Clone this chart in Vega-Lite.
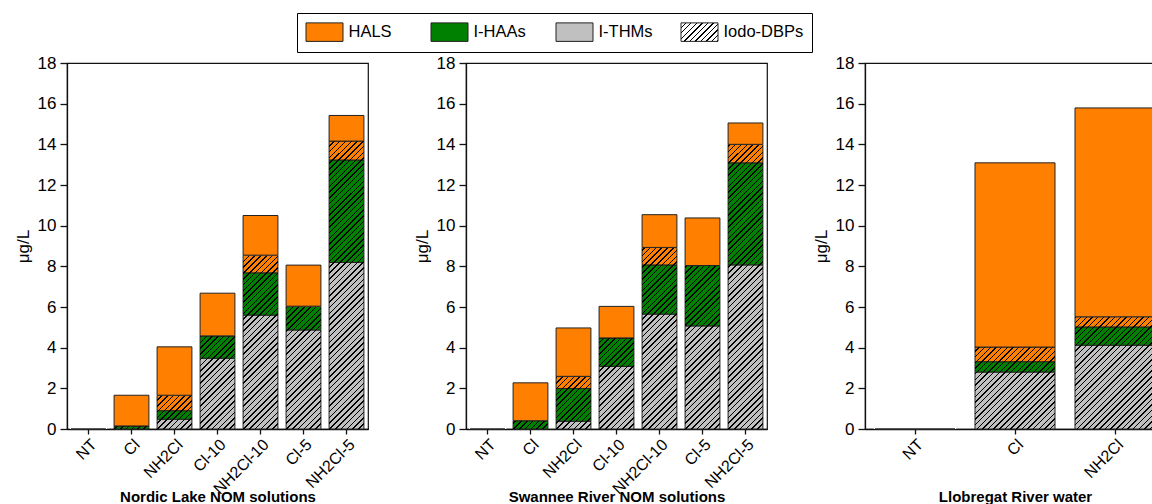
{
"$schema": "https://vega.github.io/schema/vega-lite/v6.json",
"autosize": {"type": "none"},
"padding": {"left": 67, "top": 63, "right": 1085, "bottom": 441},
"background": "white",
"config": {
 "font": "Liberation Sans",
 "view": {"stroke": "#111", "strokeWidth": 1.2},
 "bar": {"fill": {"gradient": "linear", "x1": 0, "y1": 0, "x2": 0.1255, "y2": 1.0998, "stops": [
{"offset":0,"color":"transparent"},{"offset":0.0125,"color":"transparent"},{"offset":0.0125,"color":"black"},{"offset":0.017,"color":"black"},
{"offset":0.017,"color":"transparent"},{"offset":0.0295,"color":"transparent"},{"offset":0.0295,"color":"black"},{"offset":0.034,"color":"black"},
{"offset":0.034,"color":"transparent"},{"offset":0.0465,"color":"transparent"},{"offset":0.0465,"color":"black"},{"offset":0.051,"color":"black"},
{"offset":0.051,"color":"transparent"},{"offset":0.0635,"color":"transparent"},{"offset":0.0635,"color":"black"},{"offset":0.068,"color":"black"},
{"offset":0.068,"color":"transparent"},{"offset":0.0805,"color":"transparent"},{"offset":0.0805,"color":"black"},{"offset":0.085,"color":"black"},
{"offset":0.085,"color":"transparent"},{"offset":0.0975,"color":"transparent"},{"offset":0.0975,"color":"black"},{"offset":0.102,"color":"black"},
{"offset":0.102,"color":"transparent"},{"offset":0.1145,"color":"transparent"},{"offset":0.1145,"color":"black"},{"offset":0.119,"color":"black"},
{"offset":0.119,"color":"transparent"},{"offset":0.1315,"color":"transparent"},{"offset":0.1315,"color":"black"},{"offset":0.136,"color":"black"},
{"offset":0.136,"color":"transparent"},{"offset":0.1485,"color":"transparent"},{"offset":0.1485,"color":"black"},{"offset":0.153,"color":"black"},
{"offset":0.153,"color":"transparent"},{"offset":0.1655,"color":"transparent"},{"offset":0.1655,"color":"black"},{"offset":0.17,"color":"black"},
{"offset":0.17,"color":"transparent"},{"offset":0.1825,"color":"transparent"},{"offset":0.1825,"color":"black"},{"offset":0.187,"color":"black"},
{"offset":0.187,"color":"transparent"},{"offset":0.1995,"color":"transparent"},{"offset":0.1995,"color":"black"},{"offset":0.204,"color":"black"},
{"offset":0.204,"color":"transparent"},{"offset":0.2165,"color":"transparent"},{"offset":0.2165,"color":"black"},{"offset":0.221,"color":"black"},
{"offset":0.221,"color":"transparent"},{"offset":0.2335,"color":"transparent"},{"offset":0.2335,"color":"black"},{"offset":0.238,"color":"black"},
{"offset":0.238,"color":"transparent"},{"offset":0.2505,"color":"transparent"},{"offset":0.2505,"color":"black"},{"offset":0.255,"color":"black"},
{"offset":0.255,"color":"transparent"},{"offset":0.2675,"color":"transparent"},{"offset":0.2675,"color":"black"},{"offset":0.272,"color":"black"},
{"offset":0.272,"color":"transparent"},{"offset":0.2845,"color":"transparent"},{"offset":0.2845,"color":"black"},{"offset":0.289,"color":"black"},
{"offset":0.289,"color":"transparent"},{"offset":0.3015,"color":"transparent"},{"offset":0.3015,"color":"black"},{"offset":0.306,"color":"black"},
{"offset":0.306,"color":"transparent"},{"offset":0.3185,"color":"transparent"},{"offset":0.3185,"color":"black"},{"offset":0.323,"color":"black"},
{"offset":0.323,"color":"transparent"},{"offset":0.3355,"color":"transparent"},{"offset":0.3355,"color":"black"},{"offset":0.34,"color":"black"},
{"offset":0.34,"color":"transparent"},{"offset":0.3525,"color":"transparent"},{"offset":0.3525,"color":"black"},{"offset":0.357,"color":"black"},
{"offset":0.357,"color":"transparent"},{"offset":0.3695,"color":"transparent"},{"offset":0.3695,"color":"black"},{"offset":0.374,"color":"black"},
{"offset":0.374,"color":"transparent"},{"offset":0.3865,"color":"transparent"},{"offset":0.3865,"color":"black"},{"offset":0.391,"color":"black"},
{"offset":0.391,"color":"transparent"},{"offset":0.4035,"color":"transparent"},{"offset":0.4035,"color":"black"},{"offset":0.408,"color":"black"},
{"offset":0.408,"color":"transparent"},{"offset":0.4205,"color":"transparent"},{"offset":0.4205,"color":"black"},{"offset":0.425,"color":"black"},
{"offset":0.425,"color":"transparent"},{"offset":0.4375,"color":"transparent"},{"offset":0.4375,"color":"black"},{"offset":0.442,"color":"black"},
{"offset":0.442,"color":"transparent"},{"offset":0.4545,"color":"transparent"},{"offset":0.4545,"color":"black"},{"offset":0.459,"color":"black"},
{"offset":0.459,"color":"transparent"},{"offset":0.4715,"color":"transparent"},{"offset":0.4715,"color":"black"},{"offset":0.476,"color":"black"},
{"offset":0.476,"color":"transparent"},{"offset":0.4885,"color":"transparent"},{"offset":0.4885,"color":"black"},{"offset":0.493,"color":"black"},
{"offset":0.493,"color":"transparent"},{"offset":0.5055,"color":"transparent"},{"offset":0.5055,"color":"black"},{"offset":0.51,"color":"black"},
{"offset":0.51,"color":"transparent"},{"offset":0.5225,"color":"transparent"},{"offset":0.5225,"color":"black"},{"offset":0.527,"color":"black"},
{"offset":0.527,"color":"transparent"},{"offset":0.5395,"color":"transparent"},{"offset":0.5395,"color":"black"},{"offset":0.544,"color":"black"},
{"offset":0.544,"color":"transparent"},{"offset":0.5565,"color":"transparent"},{"offset":0.5565,"color":"black"},{"offset":0.561,"color":"black"},
{"offset":0.561,"color":"transparent"},{"offset":0.5735,"color":"transparent"},{"offset":0.5735,"color":"black"},{"offset":0.578,"color":"black"},
{"offset":0.578,"color":"transparent"},{"offset":0.5905,"color":"transparent"},{"offset":0.5905,"color":"black"},{"offset":0.595,"color":"black"},
{"offset":0.595,"color":"transparent"},{"offset":0.6075,"color":"transparent"},{"offset":0.6075,"color":"black"},{"offset":0.612,"color":"black"},
{"offset":0.612,"color":"transparent"},{"offset":0.6245,"color":"transparent"},{"offset":0.6245,"color":"black"},{"offset":0.629,"color":"black"},
{"offset":0.629,"color":"transparent"},{"offset":0.6415,"color":"transparent"},{"offset":0.6415,"color":"black"},{"offset":0.646,"color":"black"},
{"offset":0.646,"color":"transparent"},{"offset":0.6585,"color":"transparent"},{"offset":0.6585,"color":"black"},{"offset":0.663,"color":"black"},
{"offset":0.663,"color":"transparent"},{"offset":0.6755,"color":"transparent"},{"offset":0.6755,"color":"black"},{"offset":0.68,"color":"black"},
{"offset":0.68,"color":"transparent"},{"offset":0.6925,"color":"transparent"},{"offset":0.6925,"color":"black"},{"offset":0.697,"color":"black"},
{"offset":0.697,"color":"transparent"},{"offset":0.7095,"color":"transparent"},{"offset":0.7095,"color":"black"},{"offset":0.714,"color":"black"},
{"offset":0.714,"color":"transparent"},{"offset":0.7265,"color":"transparent"},{"offset":0.7265,"color":"black"},{"offset":0.731,"color":"black"},
{"offset":0.731,"color":"transparent"},{"offset":0.7435,"color":"transparent"},{"offset":0.7435,"color":"black"},{"offset":0.748,"color":"black"},
{"offset":0.748,"color":"transparent"},{"offset":0.7605,"color":"transparent"},{"offset":0.7605,"color":"black"},{"offset":0.765,"color":"black"},
{"offset":0.765,"color":"transparent"},{"offset":0.7775,"color":"transparent"},{"offset":0.7775,"color":"black"},{"offset":0.782,"color":"black"},
{"offset":0.782,"color":"transparent"},{"offset":0.7945,"color":"transparent"},{"offset":0.7945,"color":"black"},{"offset":0.799,"color":"black"},
{"offset":0.799,"color":"transparent"},{"offset":0.8115,"color":"transparent"},{"offset":0.8115,"color":"black"},{"offset":0.816,"color":"black"},
{"offset":0.816,"color":"transparent"},{"offset":0.8285,"color":"transparent"},{"offset":0.8285,"color":"black"},{"offset":0.833,"color":"black"},
{"offset":0.833,"color":"transparent"},{"offset":0.8455,"color":"transparent"},{"offset":0.8455,"color":"black"},{"offset":0.85,"color":"black"},
{"offset":0.85,"color":"transparent"},{"offset":0.8625,"color":"transparent"},{"offset":0.8625,"color":"black"},{"offset":0.867,"color":"black"},
{"offset":0.867,"color":"transparent"},{"offset":0.8795,"color":"transparent"},{"offset":0.8795,"color":"black"},{"offset":0.884,"color":"black"},
{"offset":0.884,"color":"transparent"},{"offset":0.8965,"color":"transparent"},{"offset":0.8965,"color":"black"},{"offset":0.901,"color":"black"},
{"offset":0.901,"color":"transparent"},{"offset":0.9135,"color":"transparent"},{"offset":0.9135,"color":"black"},{"offset":0.918,"color":"black"},
{"offset":0.918,"color":"transparent"},{"offset":0.9305,"color":"transparent"},{"offset":0.9305,"color":"black"},{"offset":0.935,"color":"black"},
{"offset":0.935,"color":"transparent"},{"offset":0.9475,"color":"transparent"},{"offset":0.9475,"color":"black"},{"offset":0.952,"color":"black"},
{"offset":0.952,"color":"transparent"},{"offset":0.9645,"color":"transparent"},{"offset":0.9645,"color":"black"},{"offset":0.969,"color":"black"},
{"offset":0.969,"color":"transparent"},{"offset":0.9815,"color":"transparent"},{"offset":0.9815,"color":"black"},{"offset":0.986,"color":"black"},
{"offset":0.986,"color":"transparent"},{"offset":0.9985,"color":"transparent"},{"offset":0.9985,"color":"black"},{"offset":1,"color":"black"}
 ]}},
 "axis": {"domainColor": "#111", "domainWidth": 1.3, "tickColor": "#111", "tickWidth": 1.3, "labelColor": "black", "titleColor": "black", "grid": false, "zindex": 1},
 "axisX": {"labelAngle": -45, "labelFontSize": 16, "tickSize": 5, "titleFontSize": 15, "titleFontWeight": "bold", "titleY": 72, "titleBaseline": "alphabetic", "labelPadding": 2},
 "axisY": {"labelFontSize": 17, "titleFontSize": 17, "titleFontWeight": "normal", "labelPadding": 4, "titlePadding": 5}
},
"datasets": {
 "nordic": [
  {"cat": "NT", "thm_top": 0, "haa_top": 0, "iodo_top": 0, "total": 0},
  {"cat": "Cl", "thm_top": 0, "haa_top": 0.15, "iodo_top": 0.15, "total": 1.66},
  {"cat": "NH2Cl", "thm_top": 0.48, "haa_top": 0.9, "iodo_top": 1.66, "total": 4.04},
  {"cat": "Cl-10", "thm_top": 3.48, "haa_top": 4.58, "iodo_top": 4.58, "total": 6.68},
  {"cat": "NH2Cl-10", "thm_top": 5.6, "haa_top": 7.68, "iodo_top": 8.55, "total": 10.5},
  {"cat": "Cl-5", "thm_top": 4.87, "haa_top": 6.04, "iodo_top": 6.04, "total": 8.06},
  {"cat": "NH2Cl-5", "thm_top": 8.19, "haa_top": 13.23, "iodo_top": 14.16, "total": 15.42}
 ],
 "swannee": [
  {"cat": "NT", "thm_top": 0, "haa_top": 0, "iodo_top": 0, "total": 0},
  {"cat": "Cl", "thm_top": 0, "haa_top": 0.41, "iodo_top": 0.41, "total": 2.27},
  {"cat": "NH2Cl", "thm_top": 0.38, "haa_top": 1.99, "iodo_top": 2.59, "total": 4.97},
  {"cat": "Cl-10", "thm_top": 3.08, "haa_top": 4.48, "iodo_top": 4.48, "total": 6.03},
  {"cat": "NH2Cl-10", "thm_top": 5.65, "haa_top": 8.07, "iodo_top": 8.93, "total": 10.54},
  {"cat": "Cl-5", "thm_top": 5.07, "haa_top": 8.04, "iodo_top": 8.04, "total": 10.38},
  {"cat": "NH2Cl-5", "thm_top": 8.07, "haa_top": 13.09, "iodo_top": 14.0, "total": 15.05}
 ],
 "llobregat": [
  {"cat": "NT", "thm_top": 0, "haa_top": 0, "iodo_top": 0, "total": 0},
  {"cat": "Cl", "thm_top": 2.8, "haa_top": 3.31, "iodo_top": 4.03, "total": 13.09},
  {"cat": "NH2Cl", "thm_top": 4.12, "haa_top": 5.02, "iodo_top": 5.52, "total": 15.79}
 ]
},
"bounds": "flush",
"spacing": 98,
"hconcat": [
 {
  "width": 301, "height": 366,
  "data": {"name": "nordic"},
  "encoding": {"x": {"field": "cat", "type": "nominal", "sort": null, "scale": {"paddingInner": 0.19, "paddingOuter": 0.095}, "axis": {"title": "Nordic Lake NOM solutions"}}},
  "layer": [
   {"mark": {"type": "bar", "stroke": "#222", "strokeWidth": 1},
    "encoding": {
     "y": {"field": "thm_top", "type": "quantitative", "scale": {"domain": [0, 18], "nice": false},
       "axis": {"title": "μg/L", "values": [0,1,2,3,4,5,6,7,8,9,10,11,12,13,14,15,16,17,18], "labelExpr": "datum.value % 2 === 0 ? datum.label : ''", "tickSize": {"condition": {"test": "datum.value % 2 === 0", "value": 7}, "value": 3.5}}},
     "y2": {"datum": 0},
     "fill": {"datum": "I-THMs", "type": "nominal",
       "scale": {"domain": ["HALS", "I-HAAs", "I-THMs", "Iodo-DBPs"], "range": ["#FF8000", "#008000", "#C0C0C0",
         {"expr": "{gradient:'linear',x1:0,y1:0,x2:1.2,y2:0.6,stops:[{offset:0,color:'white'},{offset:0.075,color:'white'},{offset:0.075,color:'black'},{offset:0.1,color:'black'},{offset:0.1,color:'white'},{offset:0.175,color:'white'},{offset:0.175,color:'black'},{offset:0.2,color:'black'},{offset:0.2,color:'white'},{offset:0.275,color:'white'},{offset:0.275,color:'black'},{offset:0.3,color:'black'},{offset:0.3,color:'white'},{offset:0.375,color:'white'},{offset:0.375,color:'black'},{offset:0.4,color:'black'},{offset:0.4,color:'white'},{offset:0.475,color:'white'},{offset:0.475,color:'black'},{offset:0.5,color:'black'},{offset:0.5,color:'white'},{offset:0.575,color:'white'},{offset:0.575,color:'black'},{offset:0.6,color:'black'},{offset:0.6,color:'white'},{offset:0.675,color:'white'},{offset:0.675,color:'black'},{offset:0.7,color:'black'},{offset:0.7,color:'white'},{offset:0.775,color:'white'},{offset:0.775,color:'black'},{offset:0.8,color:'black'},{offset:0.8,color:'white'},{offset:0.875,color:'white'},{offset:0.875,color:'black'},{offset:0.9,color:'black'},{offset:0.9,color:'white'},{offset:0.975,color:'white'},{offset:0.975,color:'black'},{offset:1,color:'black'}]}"}]},
       "legend": {"orient": "none", "legendX": 230, "legendY": -50, "direction": "horizontal", "columns": 4, "title": null,
         "symbolType": "M-1,-0.925H2.7V0.925H-1Z", "symbolSize": 400, "symbolStrokeColor": "black", "symbolStrokeWidth": 1,
         "labelOffset": 22, "labelFontSize": 16.5, "labelColor": "black", "padding": 8.5, "columnPadding": 0, "gridAlign": "all",
         "strokeColor": "black", "fillColor": "white"}}}},
   {"mark": {"type": "bar", "stroke": "#222", "strokeWidth": 1},
    "encoding": {"y": {"field": "haa_top", "type": "quantitative"}, "y2": {"field": "thm_top"}, "fill": {"datum": "I-HAAs", "type": "nominal"}}},
   {"mark": {"type": "bar", "stroke": "#222", "strokeWidth": 1},
    "encoding": {"y": {"field": "iodo_top", "type": "quantitative"}, "y2": {"field": "haa_top"}, "fill": {"datum": "HALS", "type": "nominal"}}},
   {"mark": {"type": "bar", "strokeWidth": 0},
    "encoding": {"y": {"datum": 15, "type": "quantitative"}, "y2": {"datum": 0}}},
   {"mark": {"type": "bar", "fill": "white", "strokeWidth": 0, "width": {"band": 1.07}},
    "encoding": {"y": {"field": "iodo_top", "type": "quantitative"}, "y2": {"datum": 15.6}}},
   {"mark": {"type": "bar", "stroke": "#222", "strokeWidth": 1},
    "encoding": {"y": {"field": "total", "type": "quantitative"}, "y2": {"field": "iodo_top"}, "fill": {"datum": "HALS", "type": "nominal"}}}
  ]
 },
 {
  "width": 301, "height": 366,
  "data": {"name": "swannee"},
  "encoding": {"x": {"field": "cat", "type": "nominal", "sort": null, "scale": {"paddingInner": 0.19, "paddingOuter": 0.095}, "axis": {"title": "Swannee River NOM solutions"}}},
  "layer": [
   {"mark": {"type": "bar", "stroke": "#222", "strokeWidth": 1},
    "encoding": {
     "y": {"field": "thm_top", "type": "quantitative", "scale": {"domain": [0, 18], "nice": false},
       "axis": {"title": "μg/L", "values": [0,1,2,3,4,5,6,7,8,9,10,11,12,13,14,15,16,17,18], "labelExpr": "datum.value % 2 === 0 ? datum.label : ''", "tickSize": {"condition": {"test": "datum.value % 2 === 0", "value": 7}, "value": 3.5}}},
     "y2": {"datum": 0},
     "fill": {"datum": "I-THMs", "type": "nominal"}}},
   {"mark": {"type": "bar", "stroke": "#222", "strokeWidth": 1},
    "encoding": {"y": {"field": "haa_top", "type": "quantitative"}, "y2": {"field": "thm_top"}, "fill": {"datum": "I-HAAs", "type": "nominal"}}},
   {"mark": {"type": "bar", "stroke": "#222", "strokeWidth": 1},
    "encoding": {"y": {"field": "iodo_top", "type": "quantitative"}, "y2": {"field": "haa_top"}, "fill": {"datum": "HALS", "type": "nominal"}}},
   {"mark": {"type": "bar", "strokeWidth": 0},
    "encoding": {"y": {"datum": 15, "type": "quantitative"}, "y2": {"datum": 0}}},
   {"mark": {"type": "bar", "fill": "white", "strokeWidth": 0, "width": {"band": 1.07}},
    "encoding": {"y": {"field": "iodo_top", "type": "quantitative"}, "y2": {"datum": 15.6}}},
   {"mark": {"type": "bar", "stroke": "#222", "strokeWidth": 1},
    "encoding": {"y": {"field": "total", "type": "quantitative"}, "y2": {"field": "iodo_top"}, "fill": {"datum": "HALS", "type": "nominal"}}}
  ]
 },
 {
  "width": 288, "height": 366,
  "data": {"name": "llobregat"},
  "encoding": {"x": {"field": "cat", "type": "nominal", "sort": null, "scale": {"range": [0, 300], "paddingInner": 0.2, "paddingOuter": 0.1}, "axis": {"title": "Llobregat River water"}}},
  "layer": [
   {"mark": {"type": "bar", "stroke": "#222", "strokeWidth": 1},
    "encoding": {
     "y": {"field": "thm_top", "type": "quantitative", "scale": {"domain": [0, 18], "nice": false},
       "axis": {"title": "μg/L", "values": [0,1,2,3,4,5,6,7,8,9,10,11,12,13,14,15,16,17,18], "labelExpr": "datum.value % 2 === 0 ? datum.label : ''", "tickSize": {"condition": {"test": "datum.value % 2 === 0", "value": 7}, "value": 3.5}}},
     "y2": {"datum": 0},
     "fill": {"datum": "I-THMs", "type": "nominal"}}},
   {"mark": {"type": "bar", "stroke": "#222", "strokeWidth": 1},
    "encoding": {"y": {"field": "haa_top", "type": "quantitative"}, "y2": {"field": "thm_top"}, "fill": {"datum": "I-HAAs", "type": "nominal"}}},
   {"mark": {"type": "bar", "stroke": "#222", "strokeWidth": 1},
    "encoding": {"y": {"field": "iodo_top", "type": "quantitative"}, "y2": {"field": "haa_top"}, "fill": {"datum": "HALS", "type": "nominal"}}},
   {"mark": {"type": "bar", "strokeWidth": 0, "fill": {"gradient": "linear", "x1": 0, "y1": 0, "x2": 0.7592, "y2": 1.1579, "stops": [
{"offset":0,"color":"transparent"},{"offset":0.021,"color":"transparent"},{"offset":0.021,"color":"black"},{"offset":0.028,"color":"black"},
{"offset":0.028,"color":"transparent"},{"offset":0.049,"color":"transparent"},{"offset":0.049,"color":"black"},{"offset":0.056,"color":"black"},
{"offset":0.056,"color":"transparent"},{"offset":0.077,"color":"transparent"},{"offset":0.077,"color":"black"},{"offset":0.084,"color":"black"},
{"offset":0.084,"color":"transparent"},{"offset":0.105,"color":"transparent"},{"offset":0.105,"color":"black"},{"offset":0.112,"color":"black"},
{"offset":0.112,"color":"transparent"},{"offset":0.133,"color":"transparent"},{"offset":0.133,"color":"black"},{"offset":0.14,"color":"black"},
{"offset":0.14,"color":"transparent"},{"offset":0.161,"color":"transparent"},{"offset":0.161,"color":"black"},{"offset":0.168,"color":"black"},
{"offset":0.168,"color":"transparent"},{"offset":0.189,"color":"transparent"},{"offset":0.189,"color":"black"},{"offset":0.196,"color":"black"},
{"offset":0.196,"color":"transparent"},{"offset":0.217,"color":"transparent"},{"offset":0.217,"color":"black"},{"offset":0.224,"color":"black"},
{"offset":0.224,"color":"transparent"},{"offset":0.245,"color":"transparent"},{"offset":0.245,"color":"black"},{"offset":0.252,"color":"black"},
{"offset":0.252,"color":"transparent"},{"offset":0.273,"color":"transparent"},{"offset":0.273,"color":"black"},{"offset":0.28,"color":"black"},
{"offset":0.28,"color":"transparent"},{"offset":0.301,"color":"transparent"},{"offset":0.301,"color":"black"},{"offset":0.308,"color":"black"},
{"offset":0.308,"color":"transparent"},{"offset":0.329,"color":"transparent"},{"offset":0.329,"color":"black"},{"offset":0.336,"color":"black"},
{"offset":0.336,"color":"transparent"},{"offset":0.357,"color":"transparent"},{"offset":0.357,"color":"black"},{"offset":0.364,"color":"black"},
{"offset":0.364,"color":"transparent"},{"offset":0.385,"color":"transparent"},{"offset":0.385,"color":"black"},{"offset":0.392,"color":"black"},
{"offset":0.392,"color":"transparent"},{"offset":0.413,"color":"transparent"},{"offset":0.413,"color":"black"},{"offset":0.42,"color":"black"},
{"offset":0.42,"color":"transparent"},{"offset":0.441,"color":"transparent"},{"offset":0.441,"color":"black"},{"offset":0.448,"color":"black"},
{"offset":0.448,"color":"transparent"},{"offset":0.469,"color":"transparent"},{"offset":0.469,"color":"black"},{"offset":0.476,"color":"black"},
{"offset":0.476,"color":"transparent"},{"offset":0.497,"color":"transparent"},{"offset":0.497,"color":"black"},{"offset":0.504,"color":"black"},
{"offset":0.504,"color":"transparent"},{"offset":0.525,"color":"transparent"},{"offset":0.525,"color":"black"},{"offset":0.532,"color":"black"},
{"offset":0.532,"color":"transparent"},{"offset":0.553,"color":"transparent"},{"offset":0.553,"color":"black"},{"offset":0.56,"color":"black"},
{"offset":0.56,"color":"transparent"},{"offset":0.581,"color":"transparent"},{"offset":0.581,"color":"black"},{"offset":0.588,"color":"black"},
{"offset":0.588,"color":"transparent"},{"offset":0.609,"color":"transparent"},{"offset":0.609,"color":"black"},{"offset":0.616,"color":"black"},
{"offset":0.616,"color":"transparent"},{"offset":0.637,"color":"transparent"},{"offset":0.637,"color":"black"},{"offset":0.644,"color":"black"},
{"offset":0.644,"color":"transparent"},{"offset":0.665,"color":"transparent"},{"offset":0.665,"color":"black"},{"offset":0.672,"color":"black"},
{"offset":0.672,"color":"transparent"},{"offset":0.693,"color":"transparent"},{"offset":0.693,"color":"black"},{"offset":0.7,"color":"black"},
{"offset":0.7,"color":"transparent"},{"offset":0.721,"color":"transparent"},{"offset":0.721,"color":"black"},{"offset":0.728,"color":"black"},
{"offset":0.728,"color":"transparent"},{"offset":0.749,"color":"transparent"},{"offset":0.749,"color":"black"},{"offset":0.756,"color":"black"},
{"offset":0.756,"color":"transparent"},{"offset":0.777,"color":"transparent"},{"offset":0.777,"color":"black"},{"offset":0.784,"color":"black"},
{"offset":0.784,"color":"transparent"},{"offset":0.805,"color":"transparent"},{"offset":0.805,"color":"black"},{"offset":0.812,"color":"black"},
{"offset":0.812,"color":"transparent"},{"offset":0.833,"color":"transparent"},{"offset":0.833,"color":"black"},{"offset":0.84,"color":"black"},
{"offset":0.84,"color":"transparent"},{"offset":0.861,"color":"transparent"},{"offset":0.861,"color":"black"},{"offset":0.868,"color":"black"},
{"offset":0.868,"color":"transparent"},{"offset":0.889,"color":"transparent"},{"offset":0.889,"color":"black"},{"offset":0.896,"color":"black"},
{"offset":0.896,"color":"transparent"},{"offset":0.917,"color":"transparent"},{"offset":0.917,"color":"black"},{"offset":0.924,"color":"black"},
{"offset":0.924,"color":"transparent"},{"offset":0.945,"color":"transparent"},{"offset":0.945,"color":"black"},{"offset":0.952,"color":"black"},
{"offset":0.952,"color":"transparent"},{"offset":0.973,"color":"transparent"},{"offset":0.973,"color":"black"},{"offset":0.98,"color":"black"},
{"offset":0.98,"color":"transparent"},{"offset":1,"color":"transparent"}
    ]}},
    "encoding": {"y": {"datum": 6, "type": "quantitative"}, "y2": {"datum": 0}}},
   {"mark": {"type": "bar", "fill": "white", "strokeWidth": 0, "width": {"band": 1.03}},
    "encoding": {"y": {"field": "iodo_top", "type": "quantitative"}, "y2": {"datum": 6.6}}},
   {"mark": {"type": "bar", "stroke": "#222", "strokeWidth": 1},
    "encoding": {"y": {"field": "total", "type": "quantitative"}, "y2": {"field": "iodo_top"}, "fill": {"datum": "HALS", "type": "nominal"}}}
  ]
 }
]
}
